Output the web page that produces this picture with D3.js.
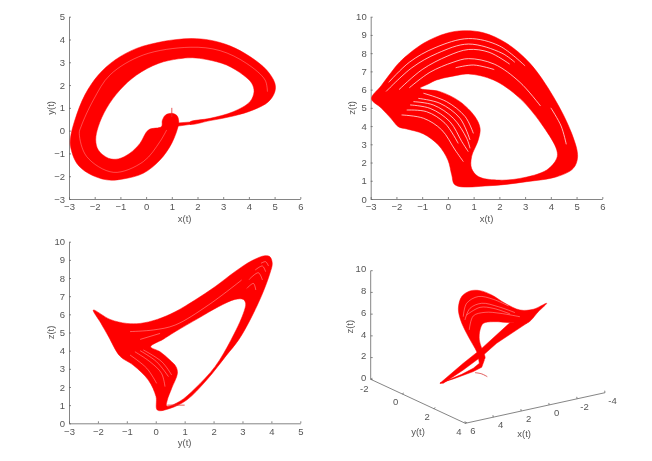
<!DOCTYPE html>
<html><head><meta charset="utf-8">
<script src="https://cdn.jsdelivr.net/npm/d3@7"></script>
<style>
html,body{margin:0;background:#fff}
svg{display:block;filter:blur(.35px)}
text{font-family:"Liberation Sans",Arial,sans-serif;fill:#555}
</style></head><body>
<svg id="c" width="652" height="461"></svg>
<script>
// ---- data ----
const xyBand=[[1.25,.2],[1,-.55],[.54,-1.29],[-.11,-1.87],[-.89,-2.12],[-1.53,-2.16],[-2.25,-1.87],[-2.7,-1.43],[-2.94,-.7],[-2.94,-.3],[-2.77,.47],[-2.38,1.57],[-1.86,2.44],[-1.21,3.1],[-.37,3.61],[.6,3.9],[1.2,4.0],[1.8,4.04],[2.49,3.97],[3.26,3.72],[4.04,3.25],[4.69,2.66],[5.01,2.08],[5.01,1.71],[4.76,1.27],[4.17,.91],[3.39,.64],[2.49,.44],[1.71,.28],
[1.71,.38],[2.49,.54],[3.39,.83],[4.04,1.27],[4.2,1.71],[4.11,2.08],[3.78,2.44],[3.13,2.88],[2.36,3.12],[1.8,3.2],[1.25,3.15],[.48,2.95],[-.37,2.44],[-1.02,1.78],[-1.54,.98],[-1.86,.18],[-1.96,-.41],[-1.86,-.85],[-1.47,-1.21],[-1.08,-1.24],[-.63,-.99],[-.24,-.56],[.09,.03],[.6,.18],[.63,.44],[.75,.68],[1,.76],[1.2,.66],[1.27,.42]];
const xyJoin=[[1.0,.05],[1.25,.2],[1.75,.28],[1.75,.38],[1.25,.34],[1.0,.5]];
const xyStreak=[[0.8,0.03],[0.54,-0.48],[-0.11,-1.36],[-1.27,-1.83],[-2.31,-1.14],[-2.6,-0.12],[-2.53,.18],[-2.05,1.35],[-1.4,2.45],[-0.11,3.32],[1.71,3.66],[2.88,3.51],[3.91,2.95],[4.63,2.22],[4.72,1.71]];
const xyTail=[[1,0.6],[1,1]];

const xzOuter=[[-2.97,5.5],[-2.6,6.2],[-2.2,6.95],[-1.86,7.53],[-0.95,8.54],[-0.05,9.09],[0.6,9.23],[1.38,9.12],[2.28,8.54],[3.19,7.44],[4.1,5.61],[4.81,3.6],[5.04,2.32],[4.87,1.68],[4.23,1.22],[3.06,0.95],[1.64,0.73],[.28,.77],[.15,1.32],[0,2.14],[-.37,2.96],[-.95,3.57],[-1.6,3.84],[-1.93,3.97],[-2.2,4.4],[-2.6,5.0]];
const xzHole=[[-1.08,6.07],[-.76,6.31],[-.44,6.53],[.34,6.78],[.8,6.86],[1.77,6.53],[2.8,5.52],[3.71,3.97],[4.23,2.69],[4.23,2.23],[3.84,1.59],[2.8,1.13],[1.9,1.04],[1.18,1.23],[.92,1.68],[.92,2.32],[1.18,3.24],[1.25,3.88],[1.05,4.52],[.47,5.34],[-.31,5.89]];
const xzStreaks=[
[[-2.3,6.4],[-1.5,7.5],[-0.5,8.3],[0.8,8.8],[2,8.4],[3,7.3]],
[[-2.4,5.9],[-1.4,7.2],[-0.4,8],[0.8,8.5],[2.1,8],[2.6,7.5]],
[[-1.9,6.0],[-1,7.1],[0,7.85],[0.8,8.2],[1.6,8.05],[2.4,7.4]],
[[-1.5,6.1],[-0.7,6.95],[0.2,7.5],[0.8,7.7],[1.8,7.4],[2.8,6.4],[3.6,5.1]],
[[0.3,7.2],[1,7.35],[1.8,7.1]],
[[4,5],[4.4,4],[4.6,3]],
[[-1.8,4.61],[-.95,4.43],[-.24,3.79],[.28,2.69],[.6,2.05]],
[[-1.34,5.34],[-.57,5.16],[.21,4.43],[.73,3.33],[.86,2.78]],
[[-1.47,5.16],[-.69,4.97],[.08,4.24],[.54,3.15],[.79,2.6]],
[[-1.6,4.88],[-.83,4.79],[-.11,4.15],[.4,3.05]],
[[-.95,5.8],[-.05,5.34],[.67,4.52],[.99,3.6]],
[[-1.15,5.52],[-.31,5.25],[.47,4.43],[.86,3.24]]];

const yzOuter=[[-2.16,6.24],[-1.58,5.72],[-1.0,5.5],[-.54,5.5],[.05,5.72],[.67,6.14],[1.36,6.79],[2.05,7.52],[2.74,8.35],[3.32,8.95],[3.78,9.23],[3.95,9.17],[4.03,8.81],[3.95,8.26],[3.67,7.06],[3.2,5.5],[2.86,4.58],[2.45,3.75],[1.76,2.38],[1.07,1.28],[.49,.82],[.055,.73],[.01,1.47],[-.256,2.38],[-.775,3.2],[-1.24,3.7],[-1.64,4.8],[-1.9,5.52]];
const yzHole=[[-.175,4.22],[.25,4.62],[.67,5.04],[1.47,5.78],[2.17,6.42],[2.74,6.82],[3.03,6.82],[3.11,6.6],[3.03,6.05],[2.6,4.58],[2.05,3.12],[1.36,1.92],[.84,1.22],[.38,.95],[.4,1.28],[.55,1.92],[.75,2.75],[.7,3.12],[.49,3.48],[.15,3.94]];
const yzTail=[[0.4,1],[1,1]];
const yzStreaks=[
[[-.72,3.94],[-.2,3.39],[.2,2.75],[.32,2.02]],
[[-.54,4.0],[.03,3.39],[.44,2.57]],
[[-.89,3.76],[-.31,3.03],[.03,2.2]],
[[-.43,4.04],[.21,3.39],[.55,2.66]],
[[-.89,5.05],[-.08,5.14],[.67,5.41],[1.82,6.51],[2.97,7.89]],
[[-.54,4.62],[.15,4.95]],
[[3.15,7.43],[3.38,7.7],[3.46,7.34]],
[[3.23,7.92],[3.55,8.29],[3.69,7.89]],
[[3.44,8.44],[3.69,8.66],[3.8,8.35]],
[[3.64,8.81],[3.8,8.9],[3.9,8.66]]];

// 3-D view: [x, z] at the depth y = viewDepth
const viewDepth=1;
const lobe3d=[[1.44,2.52],[1.92,3.73],[2.52,5.28],[2.95,6.63],[3.11,7.75],[2.87,8.76],[2.28,9.11],[1.56,8.94],[.73,8.31],[-.23,7.27],[-1.3,6.35],[-2.26,6.15],[-3.21,6.43],[-2.61,5.82],[-1.78,4.99],[-.59,5.39],[.61,5.81],[1.32,5.86],[1.56,5.32],[1.61,4.41],[1.44,3.6],[1.2,2.61]];
const diag3d=[[4.43,1.22],[2.76,2.59],[1.56,3.48],[-.59,5.39],[-1.78,4.99],[.37,3.76],[1.32,2.94],[2.76,1.97],[4.19,1.15]];
const loop3d=[[4.43,1.22],[3.47,1.35],[2.04,1.62],[1.44,1.85],[1.25,2.46],[1.44,3.29],[1.68,2.84],[1.61,2.26],[2.04,1.93],[2.87,1.6],[3.71,1.38]];
const tail3d=[[1.92,1.49],[1.44,1.24],[1.04,.87]];
const streaks3d=[
[[2.76,6.88],[2.52,8.04],[1.68,8.43],[.61,7.87],[-.47,6.96]],
[[2.64,6.54],[2.28,7.51],[1.44,7.74],[.25,7.09],[-.94,6.21]],
[[2.33,5.54],[2.04,6.75],[1.2,6.84],[.13,6.45],[-1.3,5.73]],
[[2.52,6.97],[1.56,7.4],[.61,7.04],[-.59,6.19]]];

const ticksA=[-3,-2,-1,0,1,2,3,4,5,6];
const ticksY1=[-3,-2,-1,0,1,2,3,4,5];
const ticksZ=[0,1,2,3,4,5,6,7,8,9,10];
const ticksY3=[-3,-2,-1,0,1,2,3,4,5];
const ticks3x=[6,4,2,0,-2,-4];
const ticks3y=[-2,0,2,4];
const ticks3z=[0,2,4,6,8,10];

// ---- drawing ----
const svg=d3.select("#c");
const RED="#ff0000",AX="#666",FS=9.5;
const cr=d3.curveCatmullRom.alpha(.5), crc=d3.curveCatmullRomClosed.alpha(.5);

function styleAxis(g){
  g.selectAll("path.domain,line").attr("stroke",AX).attr("stroke-width",.8);
  g.selectAll("text").attr("font-size",FS).style("fill","#555").attr("font-family","'Liberation Sans',Arial,sans-serif");
}
function panel(o){
  const x=d3.scaleLinear().domain(o.xd).range([o.l,o.r]);
  const y=d3.scaleLinear().domain(o.yd).range([o.b,o.t]);
  const g=svg.append("g");
  g.append("g").attr("transform",`translate(0,${o.b})`).call(d3.axisBottom(x).tickValues(o.xt).tickFormat(d3.format("d")).tickSizeInner(-2).tickSizeOuter(0).tickPadding(4.5)).call(styleAxis);
  g.append("g").attr("transform",`translate(${o.l},0)`).call(d3.axisLeft(y).tickValues(o.yt).tickFormat(d3.format("d")).tickSizeInner(-2).tickSizeOuter(0).tickPadding(4)).call(styleAxis);
  const open=d3.line().x(d=>x(d[0])).y(d=>y(d[1])).curve(cr);
  const closed=d3.line().x(d=>x(d[0])).y(d=>y(d[1])).curve(crc);
  const linear=d3.line().x(d=>x(d[0])).y(d=>y(d[1])).curve(d3.curveLinearClosed);
  g.append("path").attr("d",closed(o.outer)+(o.hole?closed(o.hole):"")).attr("fill",RED).attr("fill-rule","evenodd").attr("stroke",RED).attr("stroke-width",.5);
  (o.patches||[]).forEach(p=>g.append("path").attr("d",linear(p)).attr("fill",RED).attr("stroke",RED).attr("stroke-width",.5));
  (o.tails||[]).forEach(t=>g.append("path").attr("d",open(t)).attr("fill","none").attr("stroke","#e23030").attr("stroke-width",.8));
  g.selectAll(".s").data(o.streaks).join("path").attr("d",open).attr("fill","none").attr("stroke","#fff").attr("stroke-opacity",o.so).attr("stroke-width",o.sw);
  g.append("text").attr("x",(o.l+o.r)/2).attr("y",o.b+22.5).attr("text-anchor","middle").attr("font-size",FS).text(o.xl);
  g.append("text").attr("transform",`translate(${o.l-15.5},${(o.t+o.b)/2}) rotate(-90)`).attr("text-anchor","middle").attr("font-size",FS).text(o.yl);
}
panel({l:69,r:300.3,t:16.7,b:199,xd:[-3,6],yd:[-3,5],xt:ticksA,yt:ticksY1,outer:xyBand,patches:[xyJoin],streaks:[xyStreak],tails:[xyTail],so:.5,sw:.6,xl:"x(t)",yl:"y(t)"});
panel({l:370.7,r:602.3,t:16.7,b:199,xd:[-3,6],yd:[0,10],xt:ticksA,yt:ticksZ,outer:xzOuter,hole:xzHole,streaks:xzStreaks,so:.8,sw:.9,xl:"x(t)",yl:"z(t)"});
panel({l:69,r:300.3,t:241.7,b:423.3,xd:[-3,5],yd:[0,10],xt:ticksY3,yt:ticksZ,outer:yzOuter,hole:yzHole,streaks:yzStreaks,tails:[yzTail],so:.6,sw:.6,xl:"y(t)",yl:"z(t)"});

// 3-D panel: three linear scales give the oblique view
const sxFromY=d3.scaleLinear().domain([-2,4]).range([0,94.6]);
const syFromY=d3.scaleLinear().domain([-2,4]).range([0,44]);
const sxFromX=d3.scaleLinear().domain([6,-4]).range([0,139.7]);
const syFromX=d3.scaleLinear().domain([6,-4]).range([0,-30.6]);
const syFromZ=d3.scaleLinear().domain([0,10]).range([0,-108.6]);
const O=[370.7,379.3];
const px=(x,y,z)=>[O[0]+sxFromY(y)+sxFromX(x),O[1]+syFromY(y)+syFromX(x)+syFromZ(z)];
const g4=svg.append("g");
const axis3=(a,b)=>g4.append("line").attr("x1",a[0]).attr("y1",a[1]).attr("x2",b[0]).attr("y2",b[1]).attr("stroke",AX).attr("stroke-width",.8);
axis3(px(6,-2,0),px(6,-2,10));
axis3(px(6,-2,0),px(6,4,0));
axis3(px(6,4,0),px(-4,4,0));
const lbl=(p,t,dx,dy,a)=>g4.append("text").attr("x",p[0]+dx).attr("y",p[1]+dy).attr("dy",".35em").attr("text-anchor",a||"middle").attr("font-size",FS).text(t);
ticks3z.forEach(z=>{const p=px(6,-2,z);axis3(p,[p[0]+2,p[1]]);lbl(p,z,-4.5,-1.6,"end");});
ticks3y.forEach(y=>{const p=px(6,y,0);axis3(p,[p[0]+1.6,p[1]-1]);lbl(p,y,-6.5,y==-2?9.3:8);});
ticks3x.forEach(x=>{const p=px(x,4,0);axis3(p,[p[0]-.3,p[1]-2]);lbl(p,x,7.5,7.7);});
const v3=d3.line().x(d=>px(d[0],viewDepth,d[1])[0]).y(d=>px(d[0],viewDepth,d[1])[1]);
g4.append("path").attr("d",v3.curve(crc)(lobe3d)).attr("fill",RED).attr("stroke",RED).attr("stroke-width",.5);
[diag3d,loop3d].forEach(s=>g4.append("path").attr("d",v3.curve(d3.curveLinearClosed)(s)).attr("fill",RED).attr("stroke",RED).attr("stroke-width",.5));
g4.append("path").attr("d",v3.curve(cr)(tail3d)).attr("fill","none").attr("stroke","#d83030").attr("stroke-width",.8);
g4.selectAll(".s").data(streaks3d).join("path").attr("d",v3.curve(cr)).attr("fill","none").attr("stroke","#fff").attr("stroke-opacity",.6).attr("stroke-width",.6);
lbl(px(6,1,0),"y(t)",0,30.4);
lbl(px(1,4,0),"x(t)",-11,26);
g4.append("text").attr("transform","translate(350,326.7) rotate(-90)").attr("text-anchor","middle").attr("dy",".35em").attr("font-size",FS).text("z(t)");
</script></body></html>
